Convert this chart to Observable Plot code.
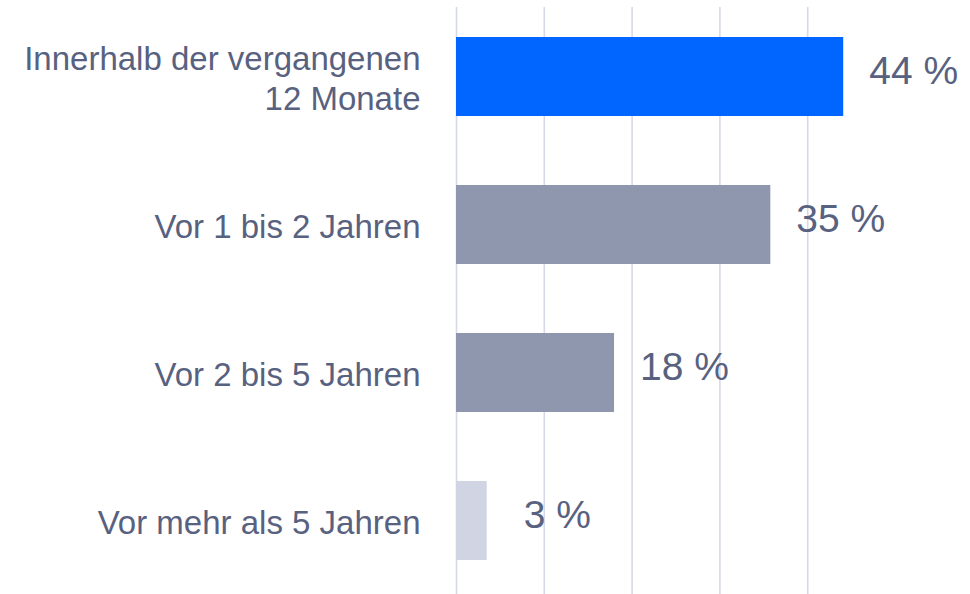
<!DOCTYPE html>
<html>
<head>
<meta charset="utf-8">
<script src="https://cdn.jsdelivr.net/npm/d3@7"></script>
<script src="https://cdn.jsdelivr.net/npm/@observablehq/plot@0.6"></script>
<style>
  html, body { margin: 0; padding: 0; background: #ffffff; }
  #chart svg { display: block; overflow: visible; }
</style>
</head>
<body>
<div id="chart"></div>
<script>
// Data
const categories = [
  "Innerhalb der vergangenen\n12 Monate",
  "Vor 1 bis 2 Jahren",
  "Vor 2 bis 5 Jahren",
  "Vor mehr als 5 Jahren"
];
const values = [44.1, 35.8, 18.0, 3.5];
const valueLabels = ["44 %", "35 %", "18 %", "3 %"];
const gridTicks = [0, 10, 20, 30, 40];

// Styling
const barColors = ["#0066ff", "#8f97ae", "#8f97ae", "#d1d5e3"];
const textColor = "#586280";

const rows = categories.map((c, i) => ({ category: c, value: values[i], label: valueLabels[i] }));

const chart = Plot.plot({
  width: 970,
  height: 594,
  marginLeft: 456,
  marginRight: 75,
  marginTop: 7,
  marginBottom: 0,
  style: { fontFamily: "'Liberation Sans', Arial, sans-serif", background: "#ffffff" },
  x: { domain: [0, 50], axis: null },
  y: { domain: categories, axis: null, paddingInner: 0.467, paddingOuter: 0.214, align: 0.47 },
  color: { type: "ordinal", domain: categories, range: barColors },
  marks: [
    Plot.ruleX(gridTicks, { stroke: "#d6d9e7", strokeWidth: 1.6 }),
    Plot.barX(rows, { x: "value", y: "category", fill: "category" }),
    Plot.text(rows, {
      x: "value", y: "category", text: "label",
      textAnchor: "middle", dx: 70, dy: -5,
      fontSize: 39, fill: textColor
    }),
    Plot.text(rows, {
      y: "category", text: "category",
      frameAnchor: "left", textAnchor: "end", dx: -36, dy: 0,
      lineHeight: 1.21, fontSize: 33, fill: textColor
    })
  ]
});
document.getElementById("chart").appendChild(chart);
</script>
</body>
</html>
